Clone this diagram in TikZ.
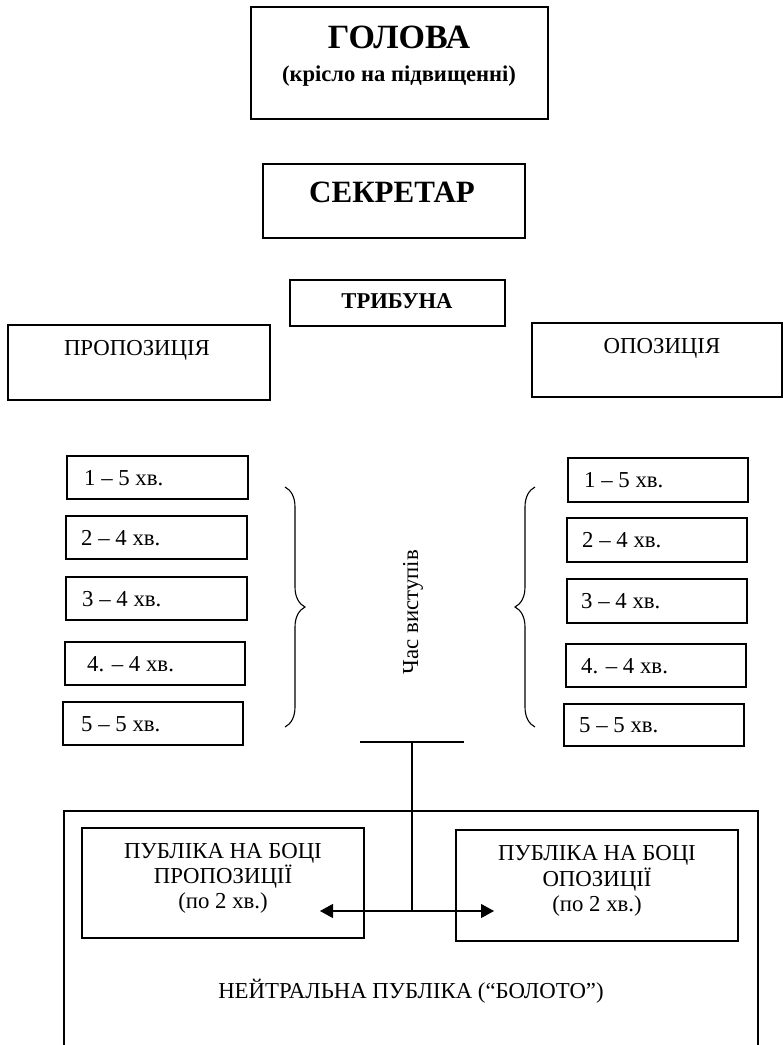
\documentclass[tikz,border=0pt]{standalone}
\usepackage{fontspec}
\setmainfont{Liberation Serif}
\usetikzlibrary{arrows.meta,decorations.pathreplacing}
\begin{document}
\begin{tikzpicture}[x=1pt,y=-1pt,
  box/.style={draw, line width=1.1pt, inner sep=0pt, rectangle},
  lbl/.style={inner sep=0pt, anchor=base, font=\fontsize{22.8}{26}\selectfont},
  tlbl/.style={lbl, anchor=base west},
  ln/.style={line width=1.1pt},
  brc/.style={line width=1.1pt, decorate, decoration={brace, amplitude=20pt}},
  arr/.style={line width=1.1pt, -{Triangle[length=13pt,width=14pt]}}]
\useasboundingbox (0,0) rectangle (783,1045);
% top boxes
\node[box, minimum width=297, minimum height=112] (head) at (399.5,63) {};
\node[lbl, font=\bfseries\fontsize{34}{38}\selectfont] (headt) at (399,48) {ГОЛОВА};
\node[lbl, font=\bfseries\fontsize{22.6}{26}\selectfont] (heads) at (399,81) {(крісло на підвищенні)};
\node[box, minimum width=262, minimum height=74] (sec) at (394,201) {};
\node[lbl, font=\bfseries\fontsize{31}{35}\selectfont] (sect) at (392,202) {СЕКРЕТАР};
\node[box, minimum width=215, minimum height=46] (trib) at (397.5,303) {};
\node[lbl, font=\bfseries\fontsize{22.6}{26}\selectfont] (tribt) at (397,308) {ТРИБУНА};
\node[box, minimum width=262, minimum height=75] (prop) at (139,362.5) {};
\node[lbl] (propt) at (137,355) {ПРОПОЗИЦІЯ};
\node[box, minimum width=250, minimum height=74] (opp) at (657,360) {};
\node[lbl] (oppt) at (662,353) {ОПОЗИЦІЯ};
% left time boxes
\node[box, minimum width=181, minimum height=43] (l1) at (157.5,477.5) {};
\node[tlbl] (l1t) at (84,485) {1 – 5 хв.};
\node[box, minimum width=181, minimum height=43] (l2) at (156.5,537.5) {};
\node[tlbl] (l2t) at (81,545) {2 – 4 хв.};
\node[box, minimum width=181, minimum height=43] (l3) at (156.5,598.5) {};
\node[tlbl] (l3t) at (82,606) {3 – 4 хв.};
\node[box, minimum width=180, minimum height=43] (l4) at (155,663.5) {};
\node[tlbl] (l4t) at (87,671) {4. – 4 хв.};
\node[box, minimum width=180, minimum height=43] (l5) at (153,723.5) {};
\node[tlbl] (l5t) at (81,731) {5 – 5 хв.};
% right time boxes
\node[box, minimum width=180, minimum height=44] (r1) at (658,480) {};
\node[tlbl] (r1t) at (584,487) {1 – 5 хв.};
\node[box, minimum width=180, minimum height=44] (r2) at (657,540) {};
\node[tlbl] (r2t) at (582,547) {2 – 4 хв.};
\node[box, minimum width=180, minimum height=44] (r3) at (657,601) {};
\node[tlbl] (r3t) at (581,608) {3 – 4 хв.};
\node[box, minimum width=180, minimum height=43] (r4) at (656,665.5) {};
\node[tlbl] (r4t) at (581,673) {4. – 4 хв.};
\node[box, minimum width=180, minimum height=42] (r5) at (654,725) {};
\node[tlbl] (r5t) at (579,732) {5 – 5 хв.};
% braces
\coordinate (lbt) at (285,487);
\coordinate (lbb) at (285,727);
\coordinate (rbt) at (535,487);
\coordinate (rbb) at (535,727);
\draw[brc] (lbt) -- (lbb);
\draw[brc] (rbb) -- (rbt);
\node[lbl, anchor=center, rotate=90] (time) at (413,612) {Час виступів};
% T-bar and arrows
\coordinate (tl) at (360,742);
\coordinate (tr) at (464,742);
\coordinate (tm) at (412,742);
\coordinate (j) at (412,911);
\coordinate (al) at (320,911);
\coordinate (ar) at (494,911);
\draw[ln] (tl) -- (tr);
\draw[ln] (tm) -- (j);
\draw[arr] (j) -- (al);
\draw[arr] (j) -- (ar);
% bottom area
\coordinate (nbl) at (64,1046);
\coordinate (ntr) at (758,811);
\coordinate (nbr) at (758,1046);
\draw[ln] (nbl) |- (ntr) -- (nbr);
\node[box, minimum width=282, minimum height=110] (pp) at (223,883) {};
\node[lbl] (pp1) at (223,858) {ПУБЛІКА НА БОЦІ};
\node[lbl] (pp2) at (223,883) {ПРОПОЗИЦІЇ};
\node[lbl] (pp3) at (223,908) {(по 2 хв.)};
\node[box, minimum width=282, minimum height=111] (po) at (597,885.5) {};
\node[lbl] (po1) at (597,860) {ПУБЛІКА НА БОЦІ};
\node[lbl] (po2) at (597,886) {ОПОЗИЦІЇ};
\node[lbl] (po3) at (597,911) {(по 2 хв.)};
\node[lbl] (neut) at (411,998) {НЕЙТРАЛЬНА ПУБЛІКА (“БОЛОТО”)};
\end{tikzpicture}
\end{document}
